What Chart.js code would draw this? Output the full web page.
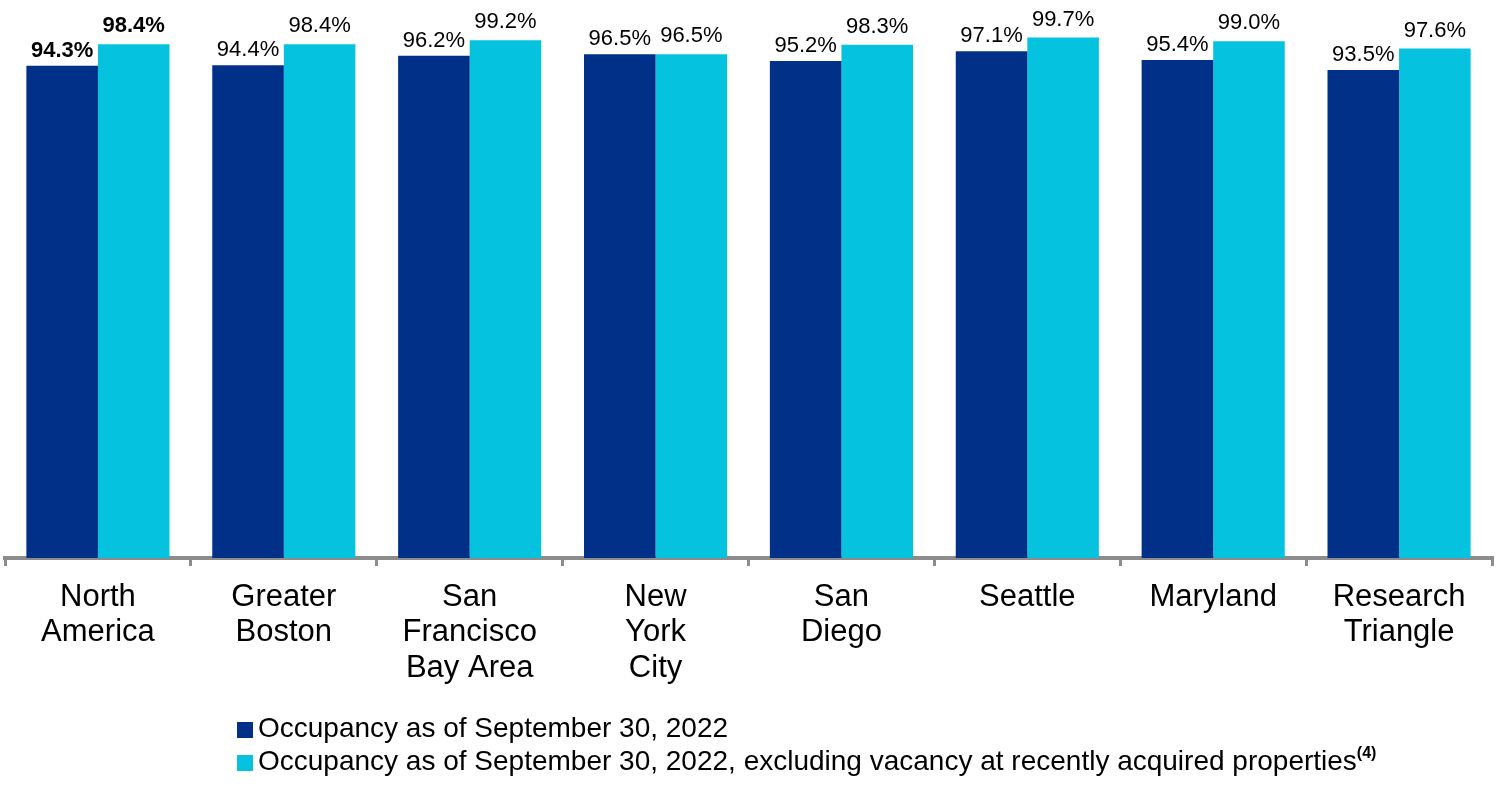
<!DOCTYPE html>
<html>
<head>
<meta charset="utf-8">
<script src="https://cdn.jsdelivr.net/npm/chart.js@4.4.0/dist/chart.umd.min.js"></script>
<style>
    html, body { margin: 0; padding: 0; background: #fff; }
    #wrap { position: relative; width: 1500px; height: 787px; }
    #legend {
        position: absolute; left: 237px; top: 711px;
        font-family: "Liberation Sans", Arial, sans-serif; font-size: 28px; color: #000;
    }
    .row { height: 33px; line-height: 33px; white-space: nowrap; }
    .box { display: inline-block; width: 16px; height: 16px; margin-right: 5px; vertical-align: -1px; }
    sup { font-size: 16px; font-weight: bold; vertical-align: 12px; line-height: 0; }
</style>
</head>
<body>
<div id="wrap">
    <canvas id="chart" width="1500" height="787"></canvas>
    <div id="legend"></div>
</div>
<script>
// ============================================
// DATA
// ============================================

const regions = [
    ['North', 'America'],
    ['Greater', 'Boston'],
    ['San', 'Francisco', 'Bay Area'],
    ['New', 'York', 'City'],
    ['San', 'Diego'],
    ['Seattle'],
    ['Maryland'],
    ['Research', 'Triangle']
];
const occupancy = [94.3, 94.4, 96.2, 96.5, 95.2, 97.1, 95.4, 93.5];
const occupancyExAcq = [98.4, 98.4, 99.2, 96.5, 98.3, 99.7, 99.0, 97.6];
const seriesNames = [
    'Occupancy as of September 30, 2022',
    'Occupancy as of September 30, 2022, excluding vacancy at recently acquired properties'
];
const seriesNotes = ['', '(4)'];
const colors = ['#003087', '#05C3DE'];

const FONT = '"Liberation Sans", Arial, sans-serif';

// ============================================
// VALUE LABELS ABOVE BARS
// ============================================

const barLabels = {
    id: 'barLabels',
    afterDatasetsDraw(chart) {
        const ctx = chart.ctx;
        const gaps = [9, 12];
        ctx.save();
        ctx.fillStyle = '#000';
        ctx.textAlign = 'center';
        ctx.textBaseline = 'alphabetic';
        chart.data.datasets.forEach((ds, di) => {
            chart.getDatasetMeta(di).data.forEach((bar, i) => {
                // first group is printed bold
                ctx.font = (i === 0 ? 'bold ' : '') + '22px ' + FONT;
                ctx.fillText(ds.data[i].toFixed(1) + '%', bar.x, bar.y - gaps[di]);
            });
        });
        ctx.restore();
    }
};

// ============================================
// CHART
// ============================================

new Chart(document.getElementById('chart'), {
    type: 'bar',
    data: {
        labels: regions,
        datasets: [
            { label: seriesNames[0], data: occupancy, backgroundColor: colors[0] },
            { label: seriesNames[1], data: occupancyExAcq, backgroundColor: colors[1] }
        ]
    },
    options: {
        responsive: false,
        animation: false,
        layout: { padding: { top: 36, left: 5, right: 8, bottom: 0 } },
        datasets: {
            bar: { categoryPercentage: 0.77, barPercentage: 1.0 }
        },
        plugins: {
            legend: { display: false },
            tooltip: { enabled: false }
        },
        scales: {
            x: {
                offset: true,
                afterFit: (scale) => { scale.height = 229; },
                border: { display: true, color: '#8c8c8c', width: 4 },
                grid: {
                    offset: true,
                    drawOnChartArea: false,
                    drawTicks: true,
                    tickLength: 8,
                    color: '#8c8c8c',
                    lineWidth: 3
                },
                ticks: {
                    color: '#000',
                    padding: 13,
                    maxRotation: 0,
                    autoSkip: false,
                    font: { family: FONT, size: 31, lineHeight: 1.16 }
                }
            },
            y: {
                display: false,
                min: 0,
                max: 100
            }
        }
    },
    plugins: [barLabels]
});

// ============================================
// LEGEND (html, for the superscript note)
// ============================================

const legend = document.getElementById('legend');
seriesNames.forEach((name, i) => {
    const row = document.createElement('div');
    row.className = 'row';
    row.innerHTML = '<span class="box" style="background:' + colors[i] + '"></span>' + name +
        (seriesNotes[i] ? '<sup>' + seriesNotes[i] + '</sup>' : '');
    legend.appendChild(row);
});
</script>
</body>
</html>
